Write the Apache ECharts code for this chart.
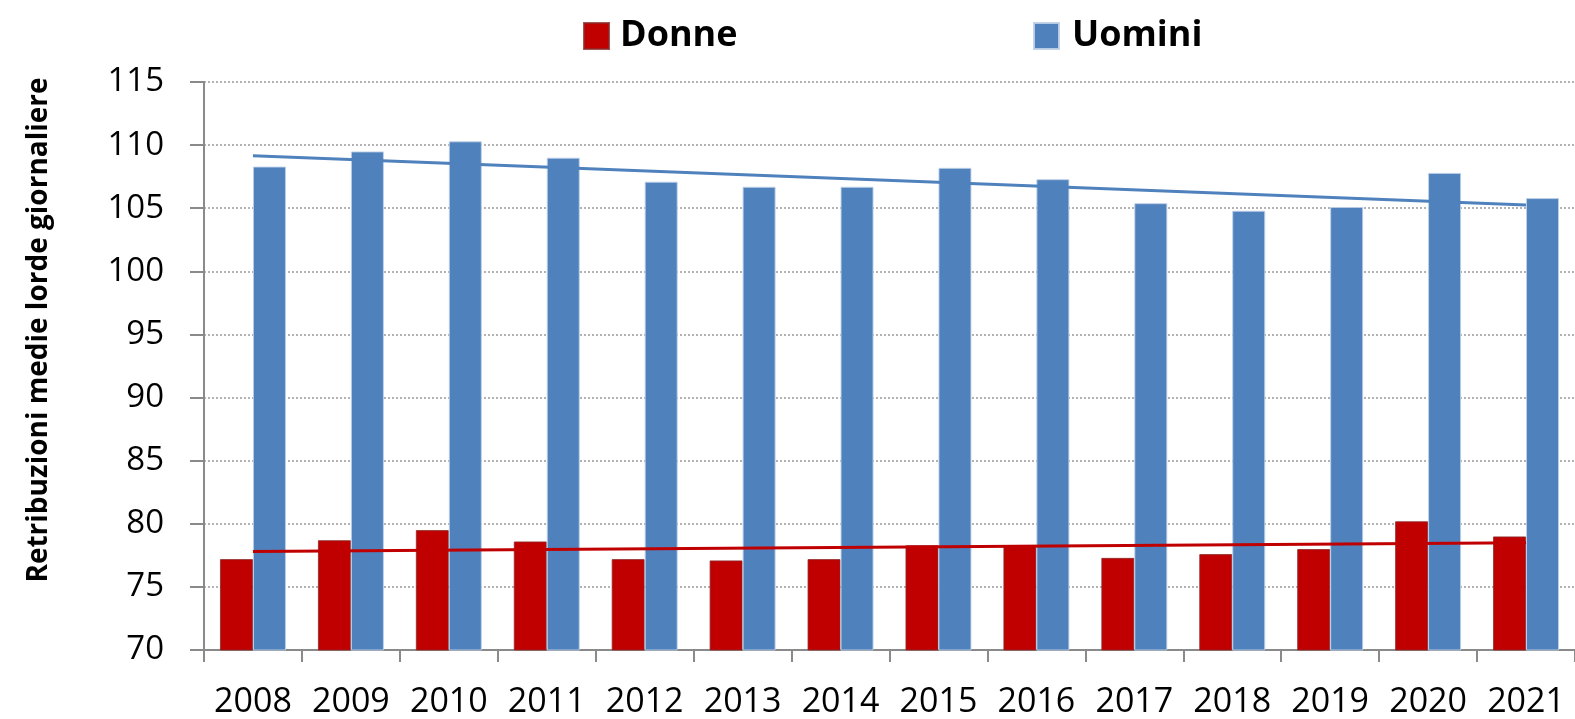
<!DOCTYPE html>
<html>
<head>
<meta charset="utf-8">
<script src="https://cdn.jsdelivr.net/npm/echarts@6/dist/echarts.min.js"></script>
<style>
  html, body { margin: 0; padding: 0; background: #fff; }
  #chart { width: 1575px; height: 719px; }
</style>
</head>
<body>
<div id="chart"></div>
<script>
// anni
const years = ["2008", "2009", "2010", "2011", "2012", "2013", "2014",
  "2015", "2016", "2017", "2018", "2019", "2020", "2021"];

// retribuzioni medie lorde giornaliere
const donne = [77.2, 78.7, 79.5, 78.6, 77.2, 77.1, 77.2,
  78.3, 78.3, 77.3, 77.6, 78.0, 80.2, 79.0];
const uomini = [108.3, 109.5, 110.3, 109.0, 107.1, 106.7, 106.7,
  108.2, 107.3, 105.4, 104.8, 105.1, 107.8, 105.8];

// linee di tendenza (valore al 2008 e al 2021)
const trendDonne = [77.8, 78.5];
const trendUomini = [109.15, 105.25];

const yTicks = { min: 70, max: 115, step: 5 };

const trendData = (ends) =>
  years.map((y, i) => (i === 0 ? ends[0] : i === years.length - 1 ? ends[1] : null));

const chart = echarts.init(document.getElementById("chart"));

const option = {
  animation: false,
  textStyle: { fontFamily: "Open Sans" },
  legend: [
    {
      data: ["Donne"],
      left: 578,
      top: 13,
      icon: "rect",
      itemWidth: 25,
      itemHeight: 26,
      textStyle: { fontSize: 36, fontWeight: "bold", color: "#000", padding: [0, 0, 0, 6] },
    },
    {
      data: ["Uomini"],
      left: 1028,
      top: 13,
      icon: "rect",
      itemWidth: 25,
      itemHeight: 26,
      textStyle: { fontSize: 36, fontWeight: "bold", color: "#000", padding: [0, 0, 0, 8] },
    },
  ],
  grid: { left: 204, right: 0, top: 82, bottom: 68, containLabel: false },
  graphic: [
    {
      type: "text",
      x: 39,
      y: 330,
      rotation: Math.PI / 2,
      style: {
        text: "Retribuzioni medie lorde giornaliere",
        font: "bold 28px 'Open Sans'",
        fill: "#000",
        textAlign: "center",
        textVerticalAlign: "middle",
      },
    },
  ],
  xAxis: {
    type: "category",
    data: years,
    boundaryGap: true,
    axisLine: { lineStyle: { color: "#8a8a8a", width: 2 } },
    axisTick: { show: true, length: 12, lineStyle: { color: "#8a8a8a", width: 2 } },
    axisLabel: { fontSize: 34, color: "#000", margin: 35, interval: 0 },
  },
  yAxis: {
    type: "value",
    min: yTicks.min,
    max: yTicks.max,
    interval: yTicks.step,
    axisLine: { show: true, lineStyle: { color: "#8a8a8a", width: 2 } },
    axisTick: { show: true, length: 14, lineStyle: { color: "#8a8a8a", width: 2 } },
    axisLabel: { fontSize: 33, color: "#000", margin: 40 },
    splitLine: { show: true, lineStyle: { color: "#9a9a9a", width: 1.5, type: [2, 2] } },
  },
  series: [
    {
      name: "Donne",
      type: "bar",
      data: donne,
      barWidth: 33,
      barGap: "0%",
      itemStyle: { color: "#C00000", borderColor: "rgba(140,40,40,0.8)", borderWidth: 1 },
      z: 2,
    },
    {
      name: "Uomini",
      type: "bar",
      data: uomini,
      barWidth: 33,
      barGap: "0%",
      itemStyle: { color: "#4F81BD", borderColor: "rgba(190,208,232,0.9)", borderWidth: 1 },
      z: 2,
    },
    {
      name: "Tendenza Donne",
      type: "line",
      data: trendData(trendDonne),
      connectNulls: true,
      symbol: "none",
      lineStyle: { color: "#C00000", width: 3 },
      z: 3,
    },
    {
      name: "Tendenza Uomini",
      type: "line",
      data: trendData(trendUomini),
      connectNulls: true,
      symbol: "none",
      lineStyle: { color: "#4F81BD", width: 3 },
      z: 3,
    },
  ],
};

chart.setOption(option);
</script>
</body>
</html>
